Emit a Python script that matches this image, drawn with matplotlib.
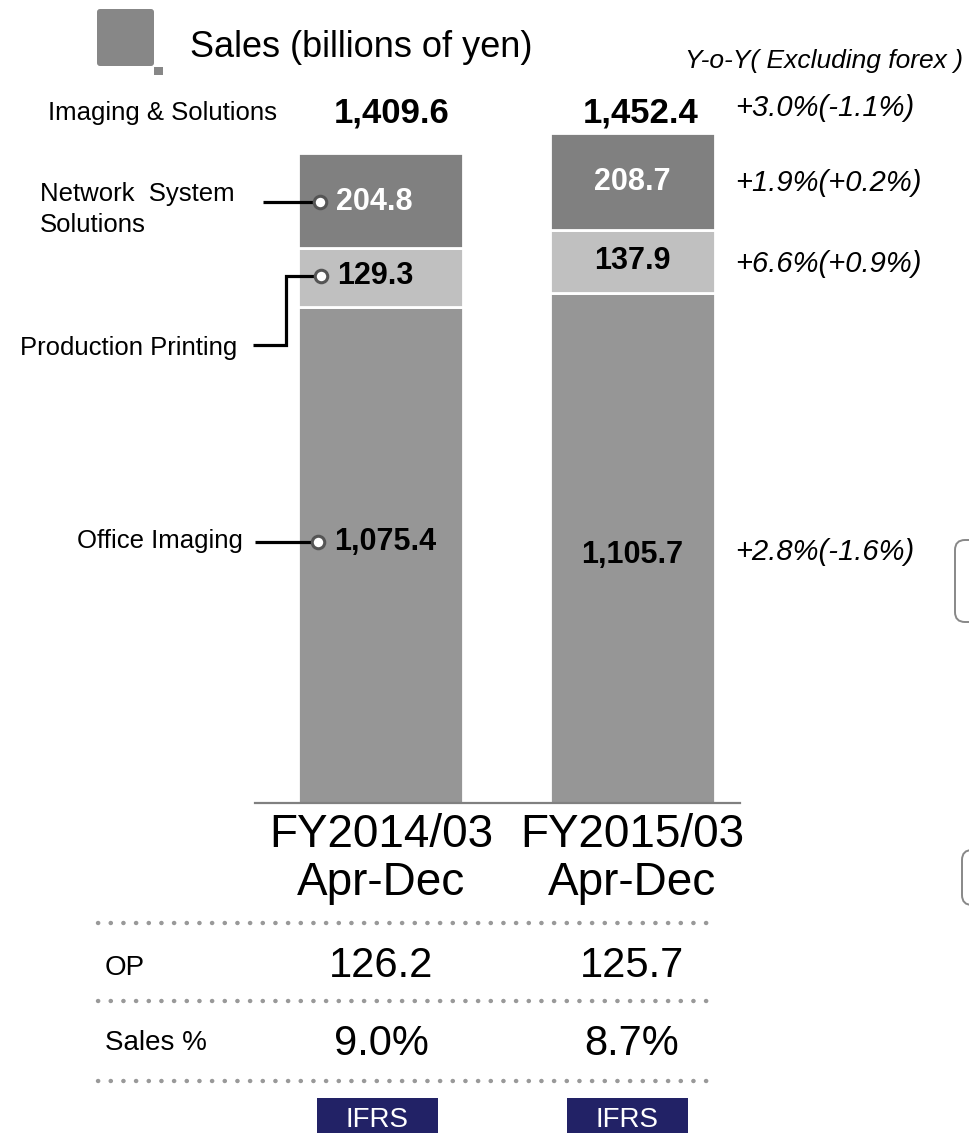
import matplotlib
matplotlib.use('Agg')
import matplotlib.pyplot as plt
from matplotlib.patches import FancyBboxPatch, Rectangle
import numpy as np

plt.rcParams['font.family'] = ['Liberation Sans', 'DejaVu Sans']

# data (billions of yen)
periods = ['FY2014/03\nApr-Dec', 'FY2015/03\nApr-Dec']
segments = ['Office Imaging', 'Production Printing', 'Network  System', 'Solutions']
office = [1075.4, 1105.7]
production = [129.3, 137.9]
network = [204.8, 208.7]
totals = [1409.6, 1452.4]
yoy_total = '+3.0%(-1.1%)'
yoy_segments = ['+2.8%(-1.6%)', '+6.6%(+0.9%)', '+1.9%(+0.2%)']
op_values = ['126.2', '125.7']
op_margin = ['9.0%', '8.7%']

W, H = 969, 1133
fig = plt.figure(figsize=(W / 100, H / 100), dpi=100)

# bar axes, placed in pixel terms: baseline at y=803, x from 255 to 740
def px_rect(x0, y0, x1, y1):
    return [x0 / W, 1 - y1 / H, (x1 - x0) / W, (y1 - y0) / H]

ymax = 1500
scale = 0.461  # px per billion
ax = fig.add_axes(px_rect(255, 803 - ymax * scale, 740, 803))
x = np.arange(len(periods))
seg_colors = ['#969696', '#c0c0c0', '#808080']
bottom = np.zeros(len(periods))
for vals, col in zip([office, production, network], seg_colors):
    ax.bar(x, vals, width=0.655, bottom=bottom, color=col, edgecolor='white', linewidth=2)
    bottom += np.array(vals)
ax.set_xlim(-0.498, 1.427)
ax.set_ylim(0, ymax)
for s in ['top', 'right', 'left']:
    ax.spines[s].set_visible(False)
ax.spines['bottom'].set_color('#808080')
ax.spines['bottom'].set_linewidth(1.6)
ax.set_yticks([])
ax.set_xticks([])

# labels inside second bar (centered on segments)
stack = np.cumsum([office, production, network], axis=0)
mids = stack - np.array([office, production, network]) / 2
txt_cols = ['black', 'black', 'white']
for k, vals in enumerate([office, production, network]):
    yy = mids[k][1] - (15 if k == 0 else 0)
    ax.text(1, yy, f'{vals[1]:,.1f}', ha='center', va='center',
            fontsize=22, fontweight='bold', color=txt_cols[k])

# overlay axes in pixel coords for annotations
ov = fig.add_axes([0, 0, 1, 1])
ov.set_xlim(0, W)
ov.set_ylim(H, 0)
ov.axis('off')
ov.patch.set_alpha(0)

# title icon
ov.add_patch(FancyBboxPatch((97, 9), 57, 57, boxstyle='round,pad=0,rounding_size=3',
                            facecolor='#878787', edgecolor='none'))
ov.add_patch(Rectangle((154, 67), 9, 8, facecolor='#878787', edgecolor='none'))
ov.text(190, 57, 'Sales (billions of yen)', fontsize=26, va='baseline', ha='left')
ov.text(963, 68, 'Y-o-Y( Excluding forex )', fontsize=19, style='italic', va='baseline', ha='right')

ov.text(48, 120, 'Imaging & Solutions', fontsize=18.5, va='baseline')
ov.text(392, 122, f'{totals[0]:,.1f}', fontsize=25, fontweight='bold', va='baseline', ha='center')
ov.text(641, 122, f'{totals[1]:,.1f}', fontsize=25, fontweight='bold', va='baseline', ha='center')
ov.text(735, 116, yoy_total, fontsize=21, style='italic', va='baseline')

yoy_y = [560, 272, 191]
for txt, yy in zip(yoy_segments, yoy_y):
    ov.text(735, yy, txt, fontsize=21, style='italic', va='baseline')

# leader lines + markers for first bar
lab_y = [542, 276, 202]
mark_x = [318, 321, 320]
for k, vals in enumerate([office, production, network]):
    ov.text(mark_x[k] + 16, lab_y[k] + 8, f'{vals[0]:,.1f}', fontsize=22, fontweight='bold',
            color=txt_cols[k], va='baseline')
ov.plot([255, 318], [542, 542], color='black', lw=2.3, solid_capstyle='butt')
ov.plot([253, 286, 286, 321], [345, 345, 276, 276], color='black', lw=2.3,
        solid_joinstyle='miter', solid_capstyle='butt')
ov.plot([263, 320], [202, 202], color='black', lw=2.3, solid_capstyle='butt')
ov.plot(mark_x, lab_y, 'o', ms=9, mfc='white', mec='#555555', mew=2.2, lw=0)

ov.text(243, 548, segments[0], fontsize=18.5, ha='right', va='baseline')
ov.text(237, 355, segments[1], fontsize=18.5, ha='right', va='baseline')
ov.text(40, 201, segments[2], fontsize=18.5, ha='left', va='baseline')
ov.text(40, 232, segments[3], fontsize=18.5, ha='left', va='baseline')

# category labels
cx = [381, 632]
for c, p in zip(cx, periods):
    l1, l2 = p.split('\n')
    ov.text(c, 847, l1, fontsize=33, ha='center', va='baseline')
    ov.text(c, 895, l2, fontsize=33, ha='center', va='baseline')

# dotted separators
for yy in [923, 1001, 1081]:
    ov.plot([98, 712], [yy, yy], color='#999999', lw=3.2, linestyle=(0, (0.05, 2.8)),
            dash_capstyle='round')

ov.text(105, 975, 'OP', fontsize=20, va='baseline')
ov.text(105, 1050, 'Sales %', fontsize=20, va='baseline')
for c, v, m in zip(cx, op_values, op_margin):
    ov.text(c, 977, v, fontsize=30, ha='center', va='baseline')
    ov.text(c, 1055, m, fontsize=30, ha='center', va='baseline')

# IFRS tags
for left in [317, 567]:
    ov.add_patch(Rectangle((left, 1098), 121, 40, facecolor='#222266', edgecolor='none'))
    ov.text(left + 60.5, 1127, 'IFRS', fontsize=20, color='white', ha='center', va='baseline')

# cut-off rounded boxes at right edge
ov.add_patch(FancyBboxPatch((955, 540), 40, 82, boxstyle='round,pad=0,rounding_size=10',
                            facecolor='white', edgecolor='#888888', lw=1.4, clip_on=False))
ov.add_patch(FancyBboxPatch((962, 850), 40, 55, boxstyle='round,pad=0,rounding_size=10',
                            facecolor='white', edgecolor='#888888', lw=1.4, clip_on=False))

fig.savefig('out.png', dpi=100)
